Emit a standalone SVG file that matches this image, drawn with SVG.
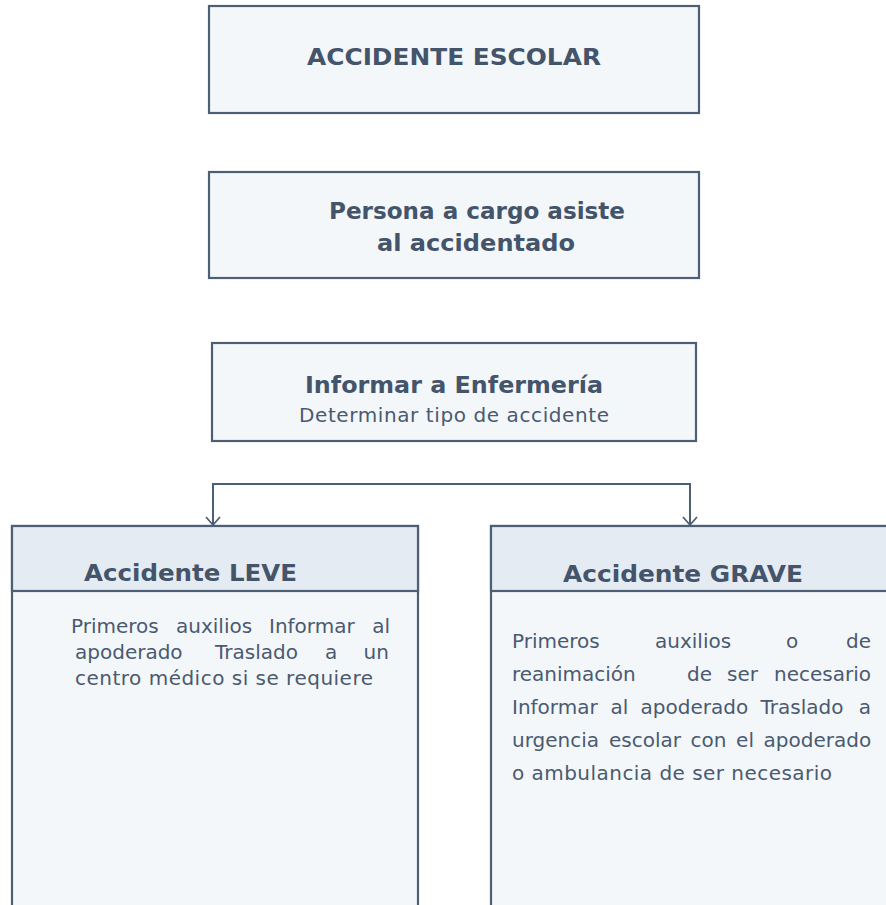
<svg xmlns="http://www.w3.org/2000/svg" width="886" height="905" viewBox="0 0 886 905">
<defs>
<style>
.box{fill:#F4F7FA;stroke:#4D5F75;stroke-width:2.2}
.hdr{fill:#E4EBF2;stroke:#4D5F75;stroke-width:2.2}
.t{font-family:"DejaVu Sans","Verdana",sans-serif;fill:#44546A}
.h{font-weight:bold;font-size:23.5px}
.b{font-weight:normal;font-size:20px;fill:#4A5A70}
.con{fill:none;stroke:#4D5F75;stroke-width:2}
.ah{fill:none;stroke:#4D5F75;stroke-width:1.8}
</style>
</defs>
<rect width="886" height="905" fill="#FFFFFF"/>
<g id="connectors">
<path class="con" d="M213,524 L213,484 L690,484 L690,524"/>
<path class="ah" d="M206,517 L213,525 L220,517"/>
<path class="ah" d="M683,517 L690,525 L697,517"/>
</g>
<g id="n1">
<rect class="box" x="209" y="6" width="490" height="107"/>
<text class="t h" x="307" y="65" textLength="294" lengthAdjust="spacingAndGlyphs">ACCIDENTE ESCOLAR</text>
</g>
<g id="n2">
<rect class="box" x="209" y="172" width="490" height="106"/>
<text class="t h" x="329" y="219" textLength="296" lengthAdjust="spacingAndGlyphs">Persona a cargo asiste</text>
<text class="t h" x="377" y="251" textLength="198" lengthAdjust="spacingAndGlyphs">al accidentado</text>
</g>
<g id="n3">
<rect class="box" x="212" y="343" width="484" height="98"/>
<text class="t h" x="305" y="393" textLength="298" lengthAdjust="spacingAndGlyphs">Informar a Enfermería</text>
<text class="t b" x="299" y="422" textLength="310">Determinar tipo de accidente</text>
</g>
<g id="n4">
<rect class="box" x="12" y="526" width="406" height="390"/>
<rect class="hdr" x="12" y="526" width="406" height="65"/>
<text class="t h" x="84" y="581" textLength="213" lengthAdjust="spacingAndGlyphs">Accidente LEVE</text>
<text class="t b" y="633"><tspan x="71">Primeros</tspan><tspan x="176">auxilios</tspan><tspan x="269">Informar</tspan><tspan x="372.2">al</tspan></text>
<text class="t b" y="659"><tspan x="75">apoderado</tspan><tspan x="215">Traslado</tspan><tspan x="325">a</tspan><tspan x="363.6">un</tspan></text>
<text class="t b" x="75" y="685" textLength="298">centro médico si se requiere</text>
</g>
<g id="n5">
<rect class="box" x="491" y="526" width="420" height="390"/>
<rect class="hdr" x="491" y="526" width="420" height="65"/>
<text class="t h" x="563" y="582" textLength="240" lengthAdjust="spacingAndGlyphs">Accidente GRAVE</text>
<text class="t b" y="648"><tspan x="512">Primeros</tspan><tspan x="655">auxilios</tspan><tspan x="786">o</tspan><tspan x="846">de</tspan></text>
<text class="t b" y="681"><tspan x="512">reanimación</tspan><tspan x="687">de</tspan><tspan x="727">ser</tspan><tspan x="774">necesario</tspan></text>
<text class="t b" y="714"><tspan x="512">Informar</tspan><tspan x="610.4">al</tspan><tspan x="640.6">apoderado</tspan><tspan x="760.5">Traslado</tspan><tspan x="858.8">a</tspan></text>
<text class="t b" y="747"><tspan x="512">urgencia</tspan><tspan x="609">escolar</tspan><tspan x="690.6">con</tspan><tspan x="736.1">el</tspan><tspan x="763.6">apoderado</tspan></text>
<text class="t b" x="512" y="780" textLength="320">o ambulancia de ser necesario</text>
</g>
</svg>
